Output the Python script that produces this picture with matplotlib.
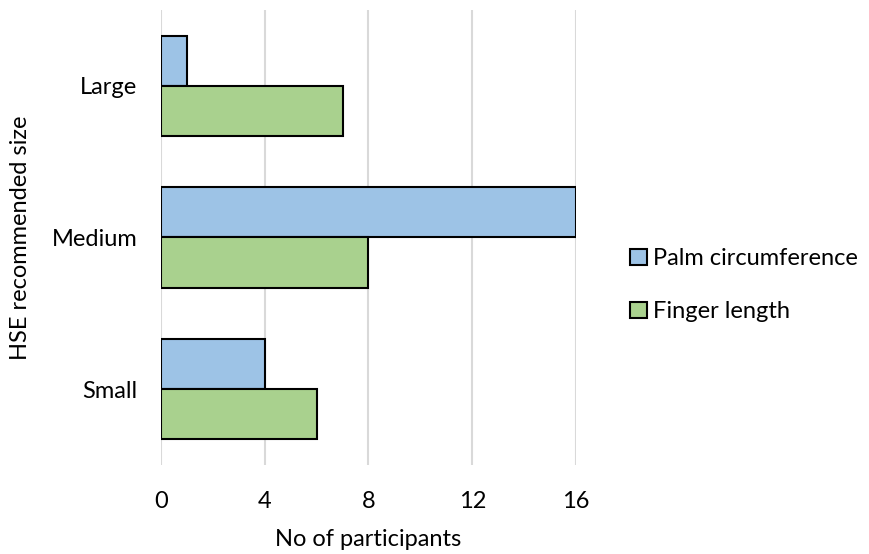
import matplotlib
matplotlib.use("Agg")
import matplotlib.pyplot as plt
import numpy as np

plt.rcParams['font.family'] = ['Lato', 'DejaVu Sans']

categories = ["Small", "Medium", "Large"]
palm = [4, 16, 1]
finger = [6, 8, 7]
xticks = [0, 4, 8, 12, 16]

fig = plt.figure(figsize=(8.69, 5.54), dpi=100)
ax = fig.add_axes([0.1853, 0.1606, 0.6628 - 0.1853, 0.982 - 0.1606])

y = np.arange(len(categories))
h = 0.33
ax.barh(y + h/2, palm, height=h, color='#9DC3E6', edgecolor='black', linewidth=1.5,
        label='Palm circumference', zorder=3)
ax.barh(y - h/2, finger, height=h, color='#A9D18E', edgecolor='black', linewidth=1.5,
        label='Finger length', zorder=3)

ax.set_xlim(0, 16)
ax.set_ylim(-0.5, 2.5)
ax.set_xticks(xticks)
ax.set_xticklabels([str(t) for t in xticks])
ax.set_yticks(y)
ax.set_yticklabels(categories)
ax.grid(axis='x', color='#D9D9D9', linewidth=1.5, zorder=0)
for s in ax.spines.values():
    s.set_visible(False)
fs = 17
ax.tick_params(axis='both', length=0, labelsize=fs, colors='black')
ax.tick_params(axis='x', pad=19)
ax.tick_params(axis='y', pad=17)
ax.set_xlabel('No of participants', fontsize=fs, labelpad=12)
ax.set_ylabel('HSE recommended size', fontsize=fs, labelpad=15)

leg = ax.legend(loc='center left', bbox_to_anchor=(1.08, 0.395), frameon=False,
                fontsize=fs, handlelength=0.7, handleheight=0.7, handletextpad=0.25,
                labelspacing=1.35)
fig.savefig('out.png', dpi=100)
